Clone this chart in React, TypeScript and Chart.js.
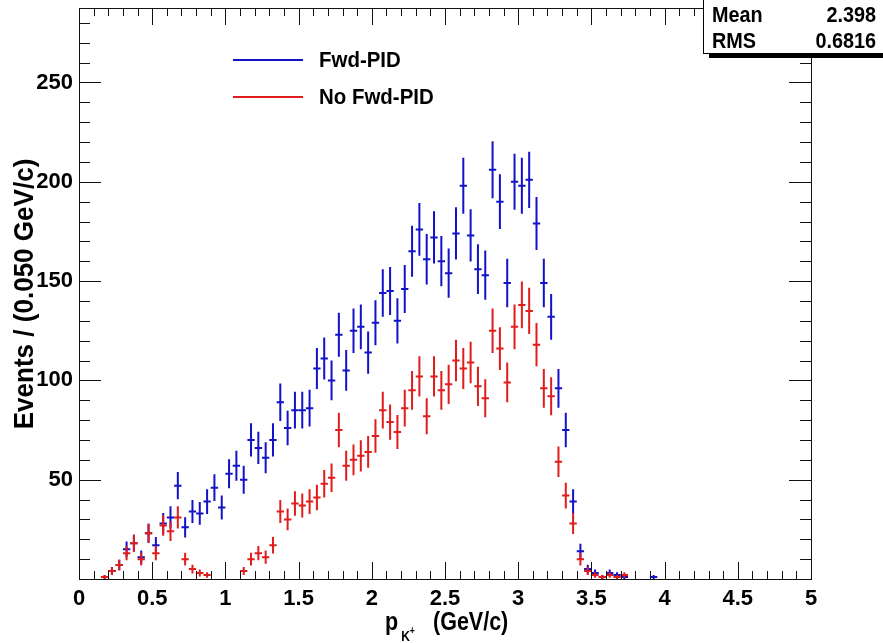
import React, { useEffect, useRef } from 'react';
import { Chart, registerables } from 'chart.js';

Chart.register(...registerables);

// Bin centres (GeV/c), bin width 0.050 GeV/c
const pBins = [
  0.175, 0.225, 0.275, 0.325, 0.375, 0.425, 0.475, 0.525, 0.575, 0.625,
  0.675, 0.725, 0.775, 0.825, 0.875, 0.925, 0.975, 1.025, 1.075, 1.125,
  1.175, 1.225, 1.275, 1.325, 1.375, 1.425, 1.475, 1.525, 1.575, 1.625,
  1.675, 1.725, 1.775, 1.825, 1.875, 1.925, 1.975, 2.025, 2.075, 2.125,
  2.175, 2.225, 2.275, 2.325, 2.375, 2.425, 2.475, 2.525, 2.575, 2.625,
  2.675, 2.725, 2.775, 2.825, 2.875, 2.925, 2.975, 3.025, 3.075, 3.125,
  3.175, 3.225, 3.275, 3.325, 3.375, 3.425, 3.475, 3.525, 3.575, 3.625,
  3.675, 3.725, 3.775, 3.825, 3.875, 3.925,
];

const fwdPid = [
  1, 4, 7, 15, 18, 11, 23, 17, 28, 31,
  47, 26, 34, 33, 39, 46, 36, 53, 57, 50,
  70, 66, 61, 70, 89, 76, 85, 85, 86, 106,
  111, 100, 123, 105, 125, 127, 114, 129, 144, 145,
  130, 146, 165, 176, 161, 172, 160, 154, 174, 198,
  173, 156, 153, 206, 190, 149, 200, 198, 201, 179,
  149, 132, 96, 75, 39, 14, 5, 3, 1, 3,
  2, 1, null, null, null, 1,
];

const noFwdPid = [
  1, 4, 7, 13, 18, 10, 23, 13, 27, 24,
  31, 10, 5, 3, 2, null, null, null, null, 4,
  10, 13, 11, 17, 34, 30, 38, 37, 39, 41,
  48, 51, 75, 57, 60, 62, 64, 72, 85, 79,
  74, 86, 95, 102, 82, 102, 95, 98, 110, 106,
  109, 97, 91, 125, 116, 99, 127, 138, 135, 118,
  96, 92, 59, 42, 28, 10, 4, 2, 1, 2,
  1, 2, null, null, null, null,
];

const seriesLabels = ['Fwd-PID', 'No Fwd-PID'];
const seriesColors = ['#1212c8', '#e01c1c'];
const statsLabels = ['Mean', 'RMS'];
const statsValues = ['2.398', '0.6816'];
const xTitleMain = 'p';
const xTitleSub = 'K';
const xTitleSup = '+';
const xTitleRest = '(GeV/c)';
const yTitle = 'Events / (0.050 GeV/c)';

const BIN_HALF = 0.025;
const FONT = '"Liberation Sans", Arial, Helvetica, sans-serif';

function toPoints(vals: (number | null)[]) {
  const out: { x: number; y: number }[] = [];
  vals.forEach((v, i) => {
    if (v !== null && v !== undefined) out.push({ x: pBins[i], y: v });
  });
  return out;
}

function text(ctx: any, s: string, x: number, y: number, size: number, sx: number, align = 'left') {
  ctx.save();
  ctx.translate(x, y);
  ctx.scale(sx, 1);
  ctx.font = `bold ${size}px ${FONT}`;
  ctx.textAlign = align;
  ctx.fillText(s, 0, 0);
  const w = ctx.measureText(s).width * sx;
  ctx.restore();
  return w;
}

const rootPlugin = {
  id: 'rootStyle',
  beforeDraw(chart: any) {
    const { ctx, width, height } = chart;
    ctx.save();
    ctx.fillStyle = '#ffffff';
    ctx.fillRect(0, 0, width, height);
    ctx.restore();
  },
  afterDatasetsDraw(chart: any) {
    const { ctx, chartArea: a, scales } = chart;
    const xs = scales.x;
    const ys = scales.y;
    chart.data.datasets.forEach((ds: any) => {
      ctx.save();
      ctx.beginPath();
      ctx.rect(a.left, a.top, a.right - a.left, a.bottom - a.top);
      ctx.clip();
      ctx.strokeStyle = ds.borderColor;
      ctx.lineWidth = 2;
      ds.data.forEach((pt: any) => {
        const xc = xs.getPixelForValue(pt.x);
        const x0 = xs.getPixelForValue(pt.x - BIN_HALF);
        const x1 = xs.getPixelForValue(pt.x + BIN_HALF);
        const e = Math.sqrt(pt.y);
        const yc = ys.getPixelForValue(pt.y);
        const y0 = ys.getPixelForValue(pt.y - e);
        const y1 = ys.getPixelForValue(pt.y + e);
        ctx.beginPath();
        ctx.moveTo(x0, yc);
        ctx.lineTo(x1, yc);
        ctx.moveTo(xc, y0);
        ctx.lineTo(xc, y1);
        ctx.stroke();
      });
      ctx.restore();
    });
  },
  afterDraw(chart: any) {
    const { ctx, chartArea: a, scales } = chart;
    const xs = scales.x;
    const ys = scales.y;
    ctx.save();
    // frame
    ctx.strokeStyle = '#111111';
    ctx.lineWidth = 1;
    ctx.strokeRect(a.left + 0.5, a.top + 0.5, a.right - a.left, a.bottom - a.top);
    // x ticks (bottom and top)
    ctx.beginPath();
    for (let i = 0; i <= 50; i++) {
      const v = i / 10;
      const px = Math.round(xs.getPixelForValue(v)) + 0.5;
      const len = i % 5 === 0 ? 17 : 8;
      ctx.moveTo(px, a.bottom);
      ctx.lineTo(px, a.bottom - len);
      ctx.moveTo(px, a.top);
      ctx.lineTo(px, a.top + len);
    }
    // y ticks (left and right)
    for (let v = 0; v <= ys.max; v += 10) {
      const py = Math.round(ys.getPixelForValue(v)) + 0.5;
      const len = v % 50 === 0 ? 22 : 11;
      ctx.moveTo(a.left, py);
      ctx.lineTo(a.left + len, py);
      ctx.moveTo(a.right, py);
      ctx.lineTo(a.right - len, py);
    }
    ctx.stroke();

    // legend
    ctx.textBaseline = 'middle';
    const legY = [60, 97];
    seriesLabels.forEach((lab, i) => {
      ctx.strokeStyle = seriesColors[i];
      ctx.lineWidth = 2;
      ctx.beginPath();
      ctx.moveTo(233, legY[i]);
      ctx.lineTo(303, legY[i]);
      ctx.stroke();
      ctx.fillStyle = '#000000';
      text(ctx, lab, 319, legY[i] + 1, 22, 0.93);
    });

    // x title
    ctx.fillStyle = '#000000';
    ctx.textBaseline = 'alphabetic';
    const tb = 630;
    const pw = text(ctx, xTitleMain, 385, tb, 25, 0.86);
    const kw = text(ctx, xTitleSub, 385 + pw + 3, tb + 11, 14, 0.86);
    text(ctx, xTitleSup, 385 + pw + 3 + kw, tb + 4, 10, 0.86);
    text(ctx, xTitleRest, 433, tb, 25, 0.86);

    // y title
    ctx.save();
    ctx.translate(33, 294);
    ctx.rotate(-Math.PI / 2);
    text(ctx, yTitle, 0, 0, 28, 0.93, 'center');
    ctx.restore();

    // stats box
    const bx = 703;
    const by = -10;
    const bw = 200;
    const bh = 63;
    ctx.fillStyle = '#000000';
    ctx.fillRect(bx + 6, by + bh, bw, 5);
    ctx.fillStyle = '#ffffff';
    ctx.fillRect(bx, by, bw, bh);
    ctx.strokeStyle = '#000000';
    ctx.lineWidth = 1;
    ctx.strokeRect(bx + 0.5, by + 0.5, bw, bh);
    ctx.fillStyle = '#000000';
    const rows = [22, 48];
    statsLabels.forEach((lab, i) => {
      text(ctx, lab, 712, rows[i], 22, 0.9, 'left');
      text(ctx, statsValues[i], 876, rows[i], 22, 0.9, 'right');
    });
    ctx.restore();
  },
};

export default function App() {
  const ref = useRef<HTMLCanvasElement | null>(null);
  useEffect(() => {
    document.body.style.margin = '0';
    const canvas = ref.current;
    if (!canvas) return;
    const chart = new Chart(canvas, {
      type: 'scatter',
      data: {
        datasets: [
          {
            label: seriesLabels[0],
            data: toPoints(fwdPid),
            borderColor: seriesColors[0],
            backgroundColor: seriesColors[0],
            pointRadius: 0,
            pointHoverRadius: 0,
            showLine: false,
          },
          {
            label: seriesLabels[1],
            data: toPoints(noFwdPid),
            borderColor: seriesColors[1],
            backgroundColor: seriesColors[1],
            pointRadius: 0,
            pointHoverRadius: 0,
            showLine: false,
          },
        ],
      },
      options: {
        animation: false,
        responsive: false,
        devicePixelRatio: 1,
        events: [],
        layout: { padding: { left: 0, right: 72, top: 8, bottom: 0 } },
        plugins: {
          legend: { display: false },
          tooltip: { enabled: false },
          title: { display: false },
        },
        scales: {
          x: {
            type: 'linear',
            min: 0,
            max: 5,
            grid: { display: false, drawTicks: false },
            border: { display: false },
            afterFit: (s: any) => {
              s.height = 64;
              s.paddingLeft = 0;
              s.paddingRight = 0;
            },
            ticks: {
              stepSize: 0.5,
              padding: 7,
              maxRotation: 0,
              autoSkip: false,
              color: '#000000',
              font: { family: FONT, size: 22, weight: 'bold' },
              callback: (v: any) => String(Math.round(Number(v) * 10) / 10),
            },
          },
          y: {
            type: 'linear',
            min: 0,
            max: 287.5,
            grid: { display: false, drawTicks: false },
            border: { display: false },
            afterFit: (s: any) => {
              s.width = 79;
              s.paddingTop = 0;
              s.paddingBottom = 0;
            },
            ticks: {
              stepSize: 50,
              includeBounds: false,
              padding: 6,
              autoSkip: false,
              color: '#000000',
              font: { family: FONT, size: 22, weight: 'bold' },
              callback: (v: any) => (Number(v) === 0 ? '' : String(v)),
            },
          },
        },
      },
      plugins: [rootPlugin],
    } as any);
    return () => chart.destroy();
  }, []);
  return (
    <div style={{ position: 'absolute', left: 0, top: 0, width: 883, height: 643 }}>
      <canvas ref={ref} width={883} height={643} style={{ display: 'block' }} />
    </div>
  );
}
